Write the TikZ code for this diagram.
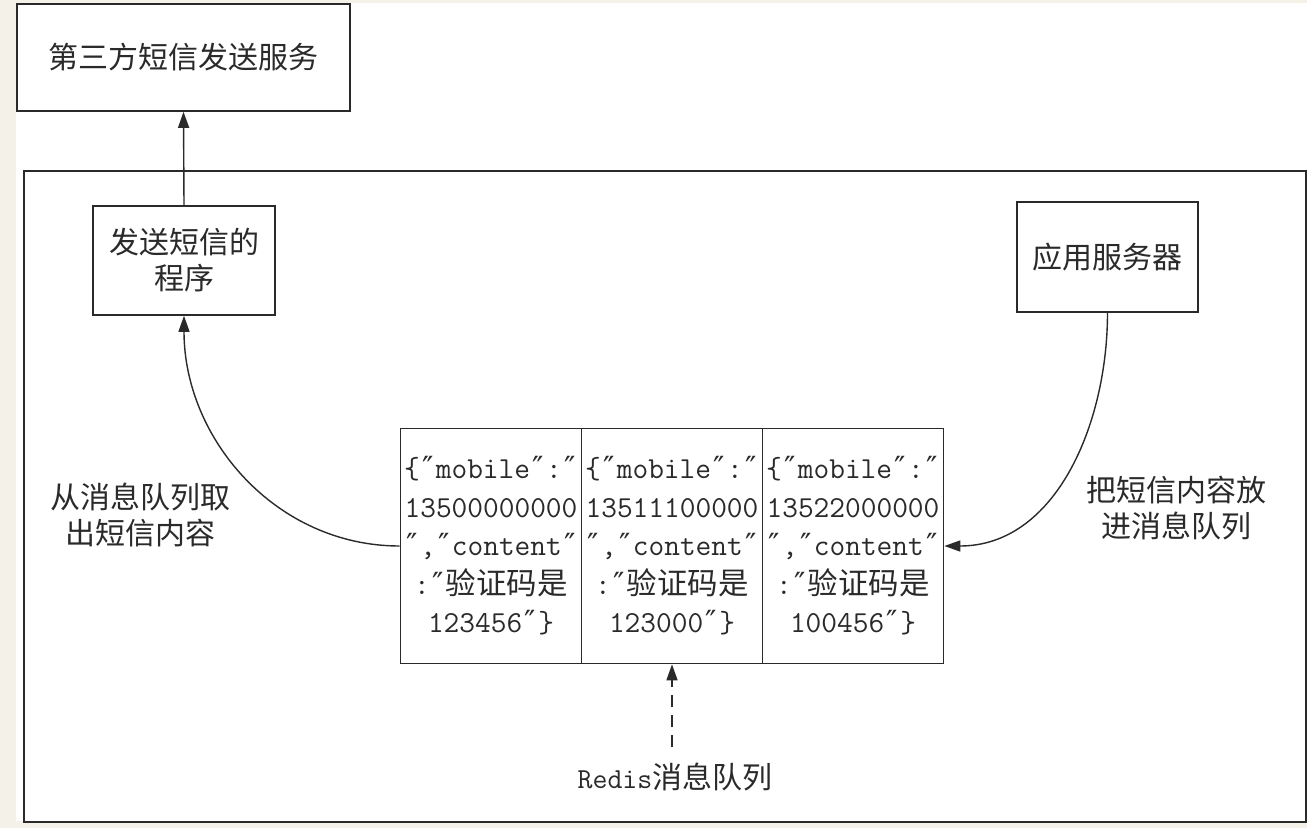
\documentclass[tikz,border=0pt]{standalone}
\usepackage{fontspec}
\newfontfamily\cjk{Noto Sans CJK SC}
\newfontfamily\dvs{DejaVu Sans}
\newcommand\qq{\makebox[0.525em]{\dvs\symbol{"2033}}}
\usetikzlibrary{arrows.meta}
\definecolor{cream}{HTML}{F4F2E8}
\definecolor{ink}{HTML}{2A2A2A}
\tikzset{
  box/.style={draw=ink, line width=1.6pt, fill=white, inner sep=0pt, align=center, text=ink},
  cjktext/.style={font=\cjk\fontsize{30}{36}\selectfont, text=ink, align=center, inner sep=0pt},
  cell/.style={draw=ink, line width=1.6pt, inner sep=0pt, align=center, text=ink,
    minimum width=181pt, minimum height=235pt, font=\ttfamily\fontsize{30.5}{38.5}\selectfont},
  conn/.style={draw=ink, line width=1.4pt, -{Triangle[length=16pt,width=11pt]}},
}
\begin{document}
\begin{tikzpicture}[x=1pt,y=-1pt]
\useasboundingbox (0,0) rectangle (1307,828);
\fill[cream] (0,0) rectangle (1307,828);
\fill[white] (16,3) rectangle (1307,821);
% outer frame
\draw[ink, line width=1.6pt] (24,171) rectangle (1306,822);
% top box
\node[box, cjktext, minimum width=333pt, minimum height=107pt] (sms) at (183.5,57.5) {第三方短信发送服务};
% program box
\node[box, cjktext, minimum width=182pt, minimum height=109pt] (prog) at (184,260.5) {发送短信的\\程序};
% app server
\node[box, cjktext, minimum width=181pt, minimum height=110pt] (app) at (1107.5,257) {应用服务器};
% queue cells
\node[cell] (q1) at (491,546) {\{\qq mobile\qq :\qq\\13500000000\\\qq,\qq content\qq\\:\qq{\cjk 验证码是}\\123456\qq\}};
\node[cell] (q2) at (672,546) {\{\qq mobile\qq :\qq\\13511100000\\\qq,\qq content\qq\\:\qq{\cjk 验证码是}\\123000\qq\}};
\node[cell] (q3) at (853,546) {\{\qq mobile\qq :\qq\\13522000000\\\qq,\qq content\qq\\:\qq{\cjk 验证码是}\\100456\qq\}};
% labels
\node[cjktext] (take) at (140,515) {从消息队列取\\出短信内容};
\node[cjktext] (put) at (1176,508) {把短信内容放\\进消息队列};
\node[text=ink, inner sep=0pt] (redis) at (675,777) {\ttfamily\fontsize{29}{34}\selectfont Redis{\cjk\fontsize{30}{34}\selectfont 消息队列}};
\coordinate (dstart) at (672,747);
% connectors
\draw[conn] (prog.north) -- (sms.south);
\draw[conn] (q1.west) to[out=180,in=-90] (prog.south);
\draw[conn] (app.south) to[out=-90,in=0] (q3.east);
\draw[conn, dash pattern=on 12pt off 8pt] (dstart) -- (q2.south);
\end{tikzpicture}
\end{document}
